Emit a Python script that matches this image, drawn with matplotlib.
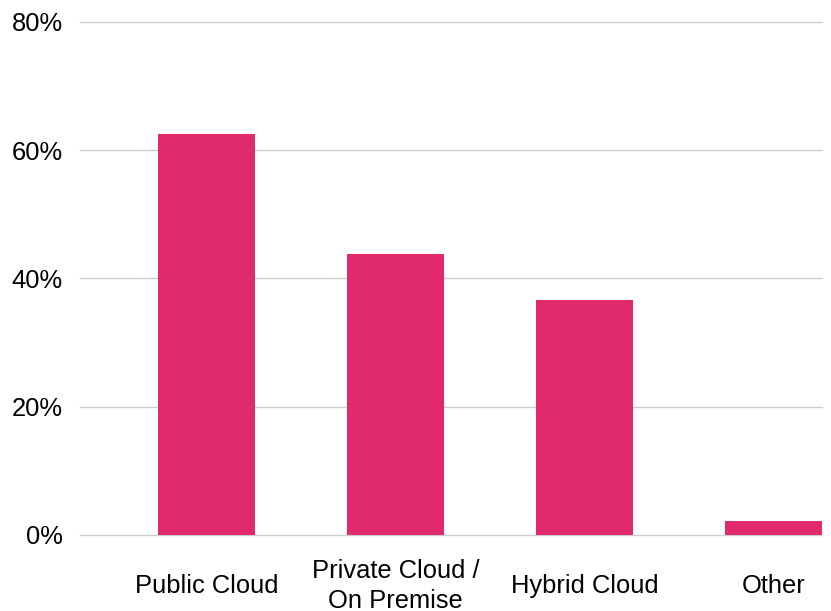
import matplotlib
matplotlib.use("Agg")
import matplotlib.pyplot as plt
from matplotlib.ticker import FuncFormatter

categories = ["Public Cloud", "Private Cloud /\nOn Premise", "Hybrid Cloud", "Other"]
values = [62.5, 43.8, 36.6, 2.2]
yticks = [0, 20, 40, 60, 80]

plt.rcParams["font.family"] = ["Liberation Sans", "DejaVu Sans"]

fig = plt.figure(figsize=(8.31, 6.11), dpi=100)
ax = fig.add_axes([0.0963, 0.1244, 0.8925, 0.8396])

x = list(range(len(categories)))
ax.bar(x, values, width=0.51, color="#E02A6B", zorder=3)

ax.set_ylim(0, 80)
ax.set_xlim(-0.67, 3.255)
ax.set_yticks(yticks)
ax.yaxis.set_major_formatter(FuncFormatter(lambda v, p: f"{v:.0f}%"))
ax.grid(axis="y", color="#CCCCCC", linewidth=1.0, zorder=0)
for gl in ax.get_ygridlines():
    gl.set_clip_on(False)
ax.set_xticks(x)
ax.set_xticklabels(categories, va="center", ha="center", linespacing=1.3)
for s in ax.spines.values():
    s.set_visible(False)
ax.tick_params(axis="both", length=0, labelsize=18.4, colors="black")
ax.tick_params(axis="y", pad=12.5)
ax.tick_params(axis="x", pad=36.5)

fig.savefig("out.png", dpi=100)
